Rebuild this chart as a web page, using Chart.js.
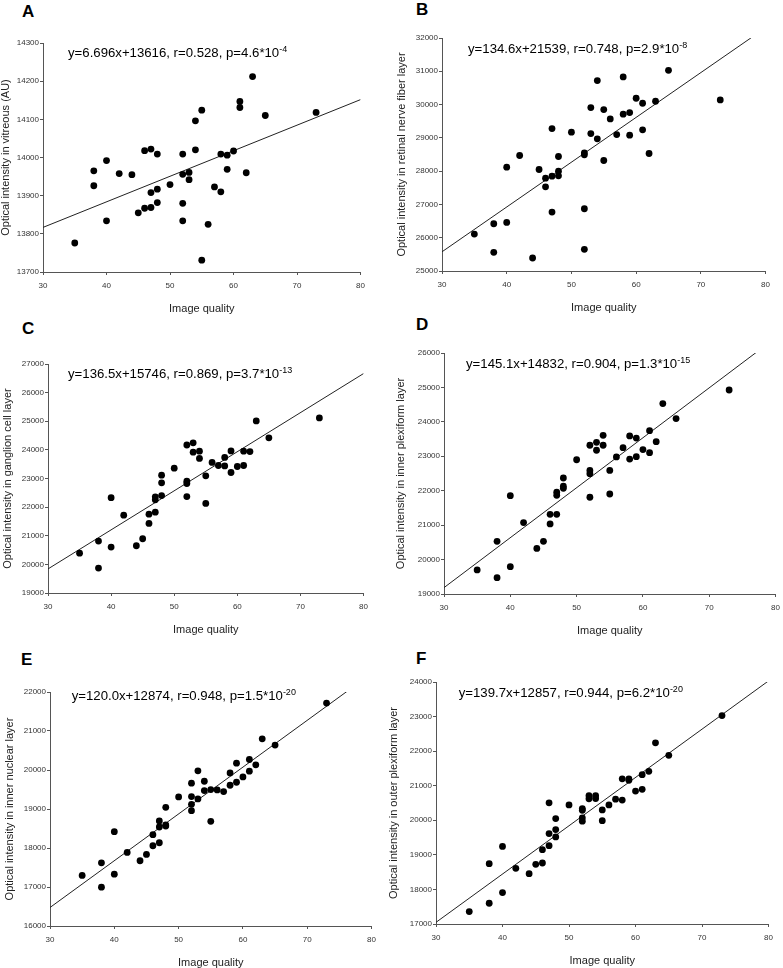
<!DOCTYPE html>
<html>
<head>
<meta charset="utf-8">
<script src="https://cdn.jsdelivr.net/npm/chart.js@4.4.0/dist/chart.umd.min.js"></script>
<style>
html, body { margin: 0; padding: 0; background: #fff; overflow: hidden; }
#page { position: relative; width: 783px; height: 968px; overflow: hidden; font-family: "Liberation Sans", Arial, sans-serif; }
#page canvas { position: absolute; }
.letter { position: absolute; font-weight: bold; font-size: 17px; line-height: 17px; color: #000; }
.equation { position: absolute; font-size: 13.2px; line-height: 13px; white-space: nowrap; color: #000; }
.equation span { position: relative; font-size: 9px; }
</style>
</head>
<body>
<div id="page"></div>
<script>
// image quality of each eye, same order in every panel
var imageQuality = [35, 38, 38, 40, 40, 42, 44, 45, 46, 46, 47, 47, 47, 48, 48, 48, 50, 52, 52, 52, 52,
	53, 53, 54, 54, 55, 55, 56, 57, 58, 58, 59, 59, 60, 61, 61, 62, 63, 65, 73];

// optical intensity per layer
var vitreous = [13776, 13965, 13926, 13992, 13834, 13958, 13955, 13855, 14018, 13867, 14022, 13908, 13869,
	14009, 13917, 13882, 13929, 14009, 13956, 13880, 13834, 13961, 13942, 14096, 14020, 14124, 13731,
	13825, 13923, 14009, 13910, 14006, 13969, 14017, 14147, 14131, 13960, 14212, 14110, 14118];
var nerveFiber = [26110, 26420, 25560, 28120, 26460, 28470, 25390, 28050, 27790, 27530, 29280, 27850, 26770,
	28440, 28000, 27860, 29170, 28550, 28490, 26870, 25650, 29910, 29130, 30720, 28970, 29850, 28320,
	29570, 29100, 30830, 29710, 29760, 29080, 30190, 30040, 29240, 28530, 30100, 31030, 30140];
var ganglionCell = [20390, 20815, 19870, 22330, 20605, 21720, 20650, 20895, 21755, 21430, 22360, 22255, 21825,
	23115, 22850, 22405, 23360, 24170, 22905, 22825, 22370, 24245, 23920, 23955, 23700, 23095, 22130,
	23560, 23455, 23735, 23440, 23965, 23210, 23420, 23955, 23455, 23940, 25010, 24420, 25115];
var innerPlexiform = [19700, 20530, 19475, 21855, 19795, 21075, 20325, 20530, 21315, 21035, 21955, 21865, 21315,
	22370, 22130, 22070, 22900, 23320, 22590, 22495, 21810, 23405, 23175, 23610, 23320, 22590, 21905,
	22980, 23250, 23590, 22920, 23530, 22990, 23195, 23745, 23105, 23425, 24530, 24095, 24925];
var innerNuclear = [17296, 17621, 16996, 18418, 17330, 17887, 17673, 17835, 18341, 18058, 18692, 18538, 18135,
	19044, 18564, 18590, 19309, 19661, 19318, 19121, 18958, 19978, 19258, 19712, 19472, 19498, 18684,
	19489, 19446, 19926, 19609, 20175, 19686, 19823, 20269, 19969, 20132, 20800, 20638, 21717];
var outerPlexiform = [17360, 18745, 17600, 19245, 17910, 18610, 18455, 18725, 19150, 18765, 20505, 19615, 19265,
	20050, 19730, 19520, 20445, 20340, 20290, 20070, 19975, 20710, 20620, 20710, 20630, 20300, 19990,
	20445, 20610, 21200, 20585, 21200, 21155, 20845, 21320, 20895, 21415, 22240, 21880, 23030];

var layers = [vitreous, nerveFiber, ganglionCell, innerPlexiform, innerNuclear, outerPlexiform];

// regression lines as printed in the figure
var fitSlope = [6.696, 134.6, 136.5, 145.1, 120.0, 139.7];
var fitIntercept = [13616, 21539, 15746, 14832, 12874, 12857];
var equationText = [
	'y=6.696x+13616, r=0.528, p=4.6*10',
	'y=134.6x+21539, r=0.748, p=2.9*10',
	'y=136.5x+15746, r=0.869, p=3.7*10',
	'y=145.1x+14832, r=0.904, p=1.3*10',
	'y=120.0x+12874, r=0.948, p=1.5*10',
	'y=139.7x+12857, r=0.944, p=6.2*10'
];
var equationExponent = ['-4', '-8', '-13', '-15', '-20', '-20'];

// axes
var panelLetters = ['A', 'B', 'C', 'D', 'E', 'F'];
var xTitle = 'Image quality';
var xMin = 30, xMax = 80, xStep = 10;
var yTitles = [
	'Optical intensity in vitreous (AU)',
	'Optical intensity in retinal nerve fiber layer',
	'Optical intensity in ganglion cell layer',
	'Optical intensity in inner plexiform layer',
	'Optical intensity in inner nuclear layer',
	'Optical intensity in outer plexiform layer'
];
var yMins = [13700, 25000, 19000, 19000, 16000, 17000];
var yMaxs = [14300, 32000, 27000, 26000, 22000, 24000];
var ySteps = [100, 1000, 1000, 1000, 1000, 1000];

// where each plot area sits on the page
var plotBoxes = [
	{ l: 43, t: 43, r: 363, b: 272, yTitleOff: 37, eqX: 68, eqBase: 57.3, letterX: 22, letterY: 3 },
	{ l: 442, t: 38, r: 768, b: 271, yTitleOff: 40.5, eqX: 468, eqBase: 53.3, letterX: 416, letterY: 1 },
	{ l: 48, t: 364, r: 366, b: 593, yTitleOff: 40.5, eqX: 68, eqBase: 378.3, letterX: 22, letterY: 320 },
	{ l: 444, t: 353, r: 778, b: 594, yTitleOff: 43, eqX: 466, eqBase: 367.7, letterX: 416, letterY: 316 },
	{ l: 50, t: 692, r: 374, b: 926, yTitleOff: 40.5, eqX: 71.7, eqBase: 700, letterX: 21, letterY: 651 },
	{ l: 436, t: 682, r: 771, b: 924, yTitleOff: 42, eqX: 458.7, eqBase: 696.7, letterX: 416, letterY: 650 }
];

Chart.defaults.font.family = '"Liberation Sans", Arial, sans-serif';
Chart.defaults.color = '#222';

var page = document.getElementById('page');

function axisStyle() {
	return {
		grid: { display: true, drawOnChartArea: false, drawTicks: true, tickLength: 3, color: '#555', lineWidth: 1 },
		border: { display: true, color: '#555', width: 1 }
	};
}

function makePanel(i) {
	var box = plotBoxes[i];
	var yAxisW = Math.round(box.yTitleOff + 6.6);
	var xAxisH = 44;
	var padTop = 12, padRight = 8;

	var canvas = document.createElement('canvas');
	var w = (box.r - box.l) + yAxisW + padRight;
	var h = (box.b - box.t) + padTop + xAxisH;
	canvas.width = w;
	canvas.height = h;
	canvas.style.width = w + 'px';
	canvas.style.height = h + 'px';
	canvas.style.left = (box.l - yAxisW) + 'px';
	canvas.style.top = (box.t - padTop) + 'px';
	page.appendChild(canvas);

	// scatter points
	var points = [];
	for (var k = 0; k < imageQuality.length; k++) {
		points.push({ x: imageQuality[k], y: layers[i][k] });
	}
	// fitted line across the whole x range, clipped by the plot area
	var fit = [
		{ x: xMin, y: fitSlope[i] * xMin + fitIntercept[i] },
		{ x: xMax, y: fitSlope[i] * xMax + fitIntercept[i] }
	];

	var xAxis = axisStyle();
	xAxis.type = 'linear';
	xAxis.min = xMin;
	xAxis.max = xMax;
	xAxis.ticks = { stepSize: xStep, padding: 6, font: { size: 8 }, color: '#333', maxRotation: 0,
		callback: function(v) { return String(v); } };
	xAxis.title = { display: true, text: xTitle, font: { size: 11 }, color: '#222', padding: 0 };
	xAxis.afterFit = function(scale) { scale.height = xAxisH; };

	var yAxis = axisStyle();
	yAxis.type = 'linear';
	yAxis.min = yMins[i];
	yAxis.max = yMaxs[i];
	yAxis.ticks = { stepSize: ySteps[i], padding: 1, font: { size: 8 }, color: '#333',
		callback: function(v) { return String(v); } };
	yAxis.title = { display: true, text: yTitles[i], font: { size: 11 }, color: '#222', padding: 0 };
	yAxis.afterFit = function(scale) { scale.width = yAxisW; };

	new Chart(canvas, {
		type: 'scatter',
		data: {
			datasets: [
				{ data: points, pointRadius: 3.4, pointBackgroundColor: '#000', pointBorderColor: '#000',
					pointBorderWidth: 0, order: 0 },
				{ type: 'line', data: fit, borderColor: '#222', borderWidth: 1, pointRadius: 0,
					fill: false, clip: 0, order: 1 }
			]
		},
		options: {
			responsive: false,
			animation: false,
			devicePixelRatio: 1,
			events: [],
			layout: { padding: { top: padTop, right: padRight, left: 0, bottom: 0 } },
			plugins: { legend: { display: false }, tooltip: { enabled: false } },
			scales: { x: xAxis, y: yAxis }
		}
	});

	// panel letter
	var letter = document.createElement('div');
	letter.className = 'letter';
	letter.textContent = panelLetters[i];
	letter.style.left = box.letterX + 'px';
	letter.style.top = box.letterY + 'px';
	page.appendChild(letter);

	// regression equation with superscript exponent
	var eq = document.createElement('div');
	eq.className = 'equation';
	eq.appendChild(document.createTextNode(equationText[i]));
	var sup = document.createElement('span');
	sup.textContent = equationExponent[i];
	sup.style.top = '-5px';
	eq.appendChild(sup);
	eq.style.left = box.eqX + 'px';
	eq.style.top = (box.eqBase - 11.1) + 'px';
	page.appendChild(eq);
}

for (var i = 0; i < plotBoxes.length; i++) {
	makePanel(i);
}
</script>
</body>
</html>
